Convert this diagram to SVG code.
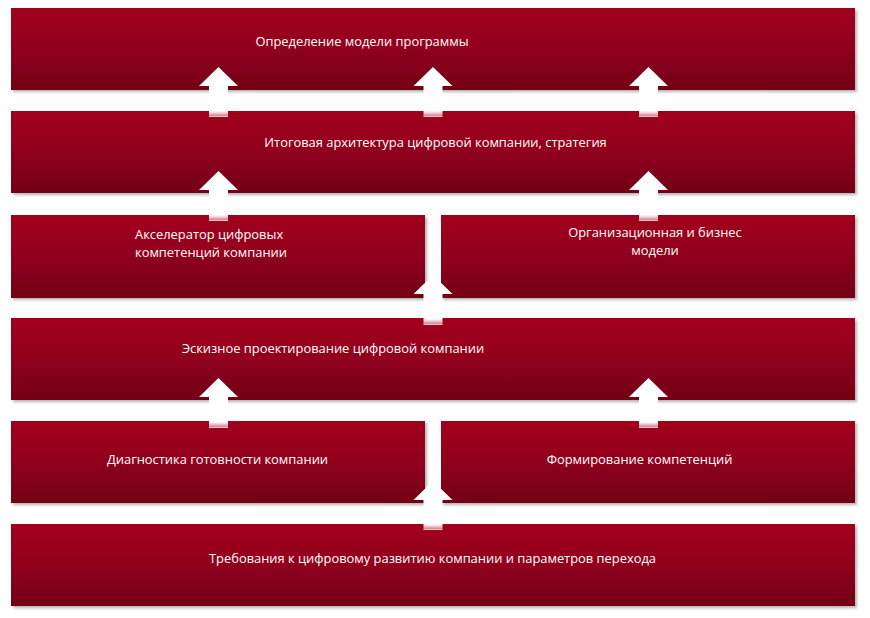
<svg xmlns="http://www.w3.org/2000/svg" width="870" height="618" viewBox="0 0 870 618">
<defs>
<linearGradient id="barGrad" x1="0" y1="0" x2="0" y2="1">
<stop offset="0" stop-color="#a1001f"/>
<stop offset="0.45" stop-color="#93001c"/>
<stop offset="1" stop-color="#720018"/>
</linearGradient>
<linearGradient id="shaftGrad" x1="0" y1="0" x2="0" y2="1">
<stop offset="0" stop-color="#ffffff"/>
<stop offset="0.8" stop-color="#ffffff"/>
<stop offset="0.86" stop-color="#f4d6db"/>
<stop offset="0.95" stop-color="#d88896"/>
<stop offset="1" stop-color="#f6e4e7"/>
</linearGradient>
<filter id="shadow" x="-5%" y="-10%" width="110%" height="130%">
<feDropShadow dx="2" dy="2" stdDeviation="1.5" flood-color="#000" flood-opacity="0.3"/>
</filter>
</defs>
<style>
.bar{fill:url(#barGrad);filter:url(#shadow);}
.lbl{font-family:"Open Sans","Noto Sans","DejaVu Sans",sans-serif;font-size:12.9px;fill:#ffffff;}
.mid{text-anchor:middle;}
.head{fill:#ffffff;}
.shaft{fill:url(#shaftGrad);}
</style>
<rect width="870" height="618" fill="#ffffff"/>

<g id="n1"><rect class="bar" x="11" y="8" width="844" height="82"/>
<text class="lbl mid" x="362" y="46">Определение модели программы</text></g>

<g id="n2"><rect class="bar" x="11" y="111" width="844" height="82"/>
<text class="lbl mid" x="435.5" y="147">Итоговая архитектура цифровой компании, стратегия</text></g>

<g id="n3a"><rect class="bar" x="11" y="215" width="414" height="83"/>
<text class="lbl" x="135" y="239">Акселератор цифровых</text>
<text class="lbl" x="135" y="257">компетенций компании</text></g>

<g id="n3b"><rect class="bar" x="441" y="215" width="414" height="83"/>
<text class="lbl mid" x="655" y="237">Организационная и бизнес</text>
<text class="lbl mid" x="655" y="255">модели</text></g>

<g id="n4"><rect class="bar" x="11" y="318" width="844" height="82"/>
<text class="lbl mid" x="333" y="353">Эскизное проектирование цифровой компании</text></g>

<g id="n5a"><rect class="bar" x="11" y="421" width="414" height="82"/>
<text class="lbl mid" x="217.5" y="464">Диагностика готовности компании</text></g>

<g id="n5b"><rect class="bar" x="441" y="421" width="414" height="82"/>
<text class="lbl mid" x="639.5" y="464">Формирование компетенций</text></g>

<g id="n6"><rect class="bar" x="11" y="524" width="844" height="82"/>
<text class="lbl mid" x="432.5" y="563">Требования к цифровому развитию компании и параметров перехода</text></g>

<g id="connectors">
<g><polygon class="head" points="218.5,67 238,86 199,86"/><rect class="shaft" x="209" y="86" width="19" height="31"/></g>
<g><polygon class="head" points="433,67 452.5,86 413.5,86"/><rect class="shaft" x="423.5" y="86" width="19" height="31"/></g>
<g><polygon class="head" points="648.5,67 668,86 629,86"/><rect class="shaft" x="639" y="86" width="19" height="31"/></g>
<g><polygon class="head" points="218.5,171 238,190 199,190"/><rect class="shaft" x="209" y="190" width="19" height="31"/></g>
<g><polygon class="head" points="648.5,171 668,190 629,190"/><rect class="shaft" x="639" y="190" width="19" height="31"/></g>
<g><polygon class="head" points="433,275 452.5,294 413.5,294"/><rect class="shaft" x="423.5" y="294" width="19" height="31"/></g>
<g><polygon class="head" points="218.5,378 238,397 199,397"/><rect class="shaft" x="209" y="397" width="19" height="31"/></g>
<g><polygon class="head" points="648.5,378 668,397 629,397"/><rect class="shaft" x="639" y="397" width="19" height="31"/></g>
<g><polygon class="head" points="433,481 452.5,500 413.5,500"/><rect class="shaft" x="423.5" y="500" width="19" height="30"/></g>
</g>
</svg>
